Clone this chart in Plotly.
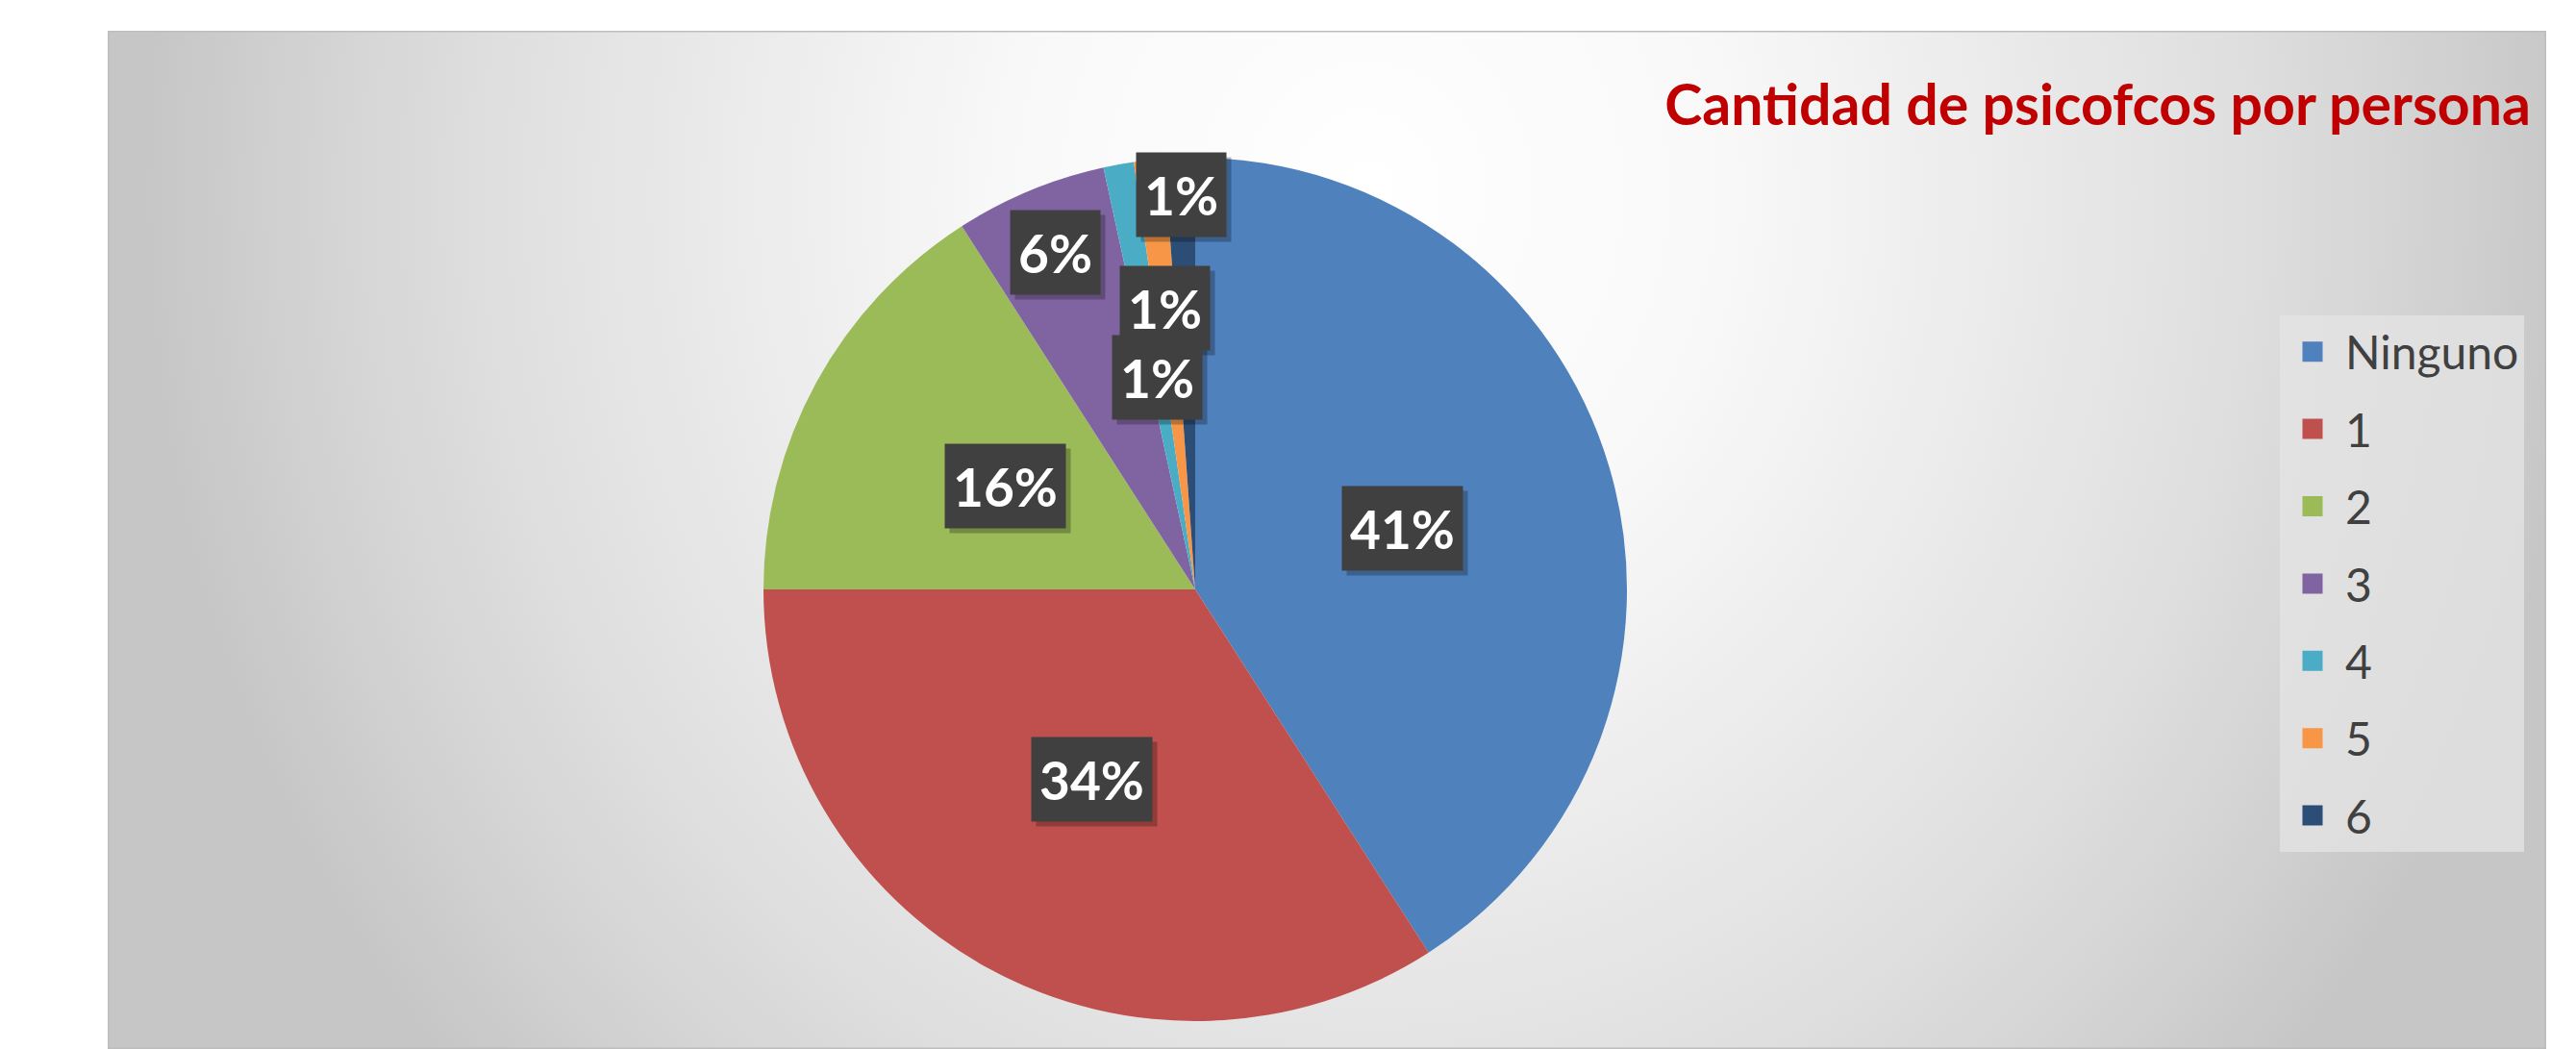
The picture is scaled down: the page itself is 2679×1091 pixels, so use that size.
import base64
import math

import plotly.graph_objects as go

categories = ["Ninguno", "1", "2", "3", "4", "5", "6"]
personas = [36, 30, 14, 5, 1, 1, 1]
slice_colors = ["#4F81BD", "#C0504D", "#9BBB59", "#8064A2", "#4BACC6", "#F79646", "#2C4D75"]
title_text = "Cantidad de psicofcos por persona"

# where each data label sits, as a share of the pie radius
_LABEL_RADIUS = [0.5, 0.5, 0.5, 0.845, 0.5, 0.655, 0.915]

# the page body keeps its default 8px margin, so the figure is drawn 8px in
_PAGE_MARGIN = 8
_W, _H = 2679 - _PAGE_MARGIN, 1091 - _PAGE_MARGIN
_PIE_CX, _PIE_CY, _PIE_R = 1243, 613, 449
_PANEL = (112, 32, 2648, 1091)
_FONT = "Lato"


def _fx(px: float) -> float:
    return (px - _PAGE_MARGIN) / _W


def _fy(py: float) -> float:
    return 1 - (py - _PAGE_MARGIN) / _H


def _panel_image() -> dict:
    x0, y0, x1, y1 = _PANEL
    pw, ph = x1 - x0, y1 - y0
    svg = f"""<svg xmlns="http://www.w3.org/2000/svg" width="{pw}" height="{ph}" viewBox="0 0 {pw} {ph}">
<defs><radialGradient id="g" gradientUnits="userSpaceOnUse" cx="0" cy="0" r="1270"
 gradientTransform="translate({1420 - x0},{200 - y0}) scale(1,{1380 / 1270:.4f})">
<stop offset="0" stop-color="#ffffff"/>
<stop offset="0.3" stop-color="#f8f8f8"/>
<stop offset="0.7" stop-color="#e0e0e0"/>
<stop offset="0.85" stop-color="#d4d4d4"/>
<stop offset="1" stop-color="#c6c6c6"/>
</radialGradient></defs>
<rect x="0" y="0" width="{pw}" height="{ph}" fill="url(#g)" stroke="#bdbdbd" stroke-width="3"/>
</svg>"""
    src = "data:image/svg+xml;base64," + base64.b64encode(svg.encode()).decode()
    return dict(
        source=src, xref="paper", yref="paper",
        x=_fx(x0), y=_fy(y0), sizex=pw / _W, sizey=ph / _H,
        xanchor="left", yanchor="top", sizing="stretch", layer="below",
    )


def _label_annotations() -> list[dict]:
    total = sum(personas)
    notes = []
    shadows = []
    cum = 0
    for value, frac in zip(personas, _LABEL_RADIUS):
        mid = (cum + value / 2) / total * 2 * math.pi
        cum += value
        px = _PIE_CX + frac * _PIE_R * math.sin(mid)
        py = _PIE_CY - frac * _PIE_R * math.cos(mid)
        text = f"{round(100 * value / total)}%"
        base = dict(
            x=_fx(px), y=_fy(py), xref="paper", yref="paper", text=text,
            showarrow=False, xanchor="center", yanchor="middle", borderpad=8, height=71,
        )
        shadows.append({**base, "bgcolor": "rgba(0,0,0,0.25)", "xshift": 5, "yshift": -5,
                        "font": dict(family=_FONT, size=55, color="rgba(0,0,0,0)", weight="bold")})
        notes.append({**base, "bgcolor": "#404040",
                      "font": dict(family=_FONT, size=55, color="white", weight="bold")})
    return shadows + notes


fig = go.Figure()
fig.add_trace(go.Pie(
    labels=categories,
    values=personas,
    sort=False,
    direction="clockwise",
    rotation=0,
    marker=dict(colors=slice_colors, line=dict(width=0)),
    textinfo="none",
    hoverinfo="label+percent",
    showlegend=False,
    domain=dict(
        x=[_fx(_PIE_CX - _PIE_R), _fx(_PIE_CX + _PIE_R)],
        y=[_fy(_PIE_CY + _PIE_R), _fy(_PIE_CY - _PIE_R)],
    ),
))

# legend entries with larger swatches than the pie legend allows
for name, color in zip(categories, slice_colors):
    fig.add_trace(go.Scatter(
        x=[None], y=[None], mode="markers", name=name, legendgroup=name,
        marker=dict(symbol="square", size=16, color=color, line=dict(width=5, color=color)),
    ))

fig.update_layout(
    width=_W,
    height=_H,
    margin=dict(l=0, r=0, t=0, b=0),
    paper_bgcolor="white",
    plot_bgcolor="rgba(0,0,0,0)",
    xaxis=dict(visible=False),
    yaxis=dict(visible=False),
    title=dict(
        text=title_text, x=_fx(2632), xanchor="right", xref="paper",
        y=_fy(109), yanchor="middle", yref="container",
        font=dict(family=_FONT, size=59, color="#C00000", weight="bold"),
    ),
    legend=dict(
        x=_fx(2371), y=_fy(328), xanchor="left", yanchor="top",
        bgcolor="rgba(228,228,228,0.75)", borderwidth=0,
        font=dict(family=_FONT, size=48, color="#404040"),
        tracegroupgap=15, itemwidth=58,
    ),
    images=[_panel_image()],
    annotations=_label_annotations(),
)

fig.write_html("out.html")
